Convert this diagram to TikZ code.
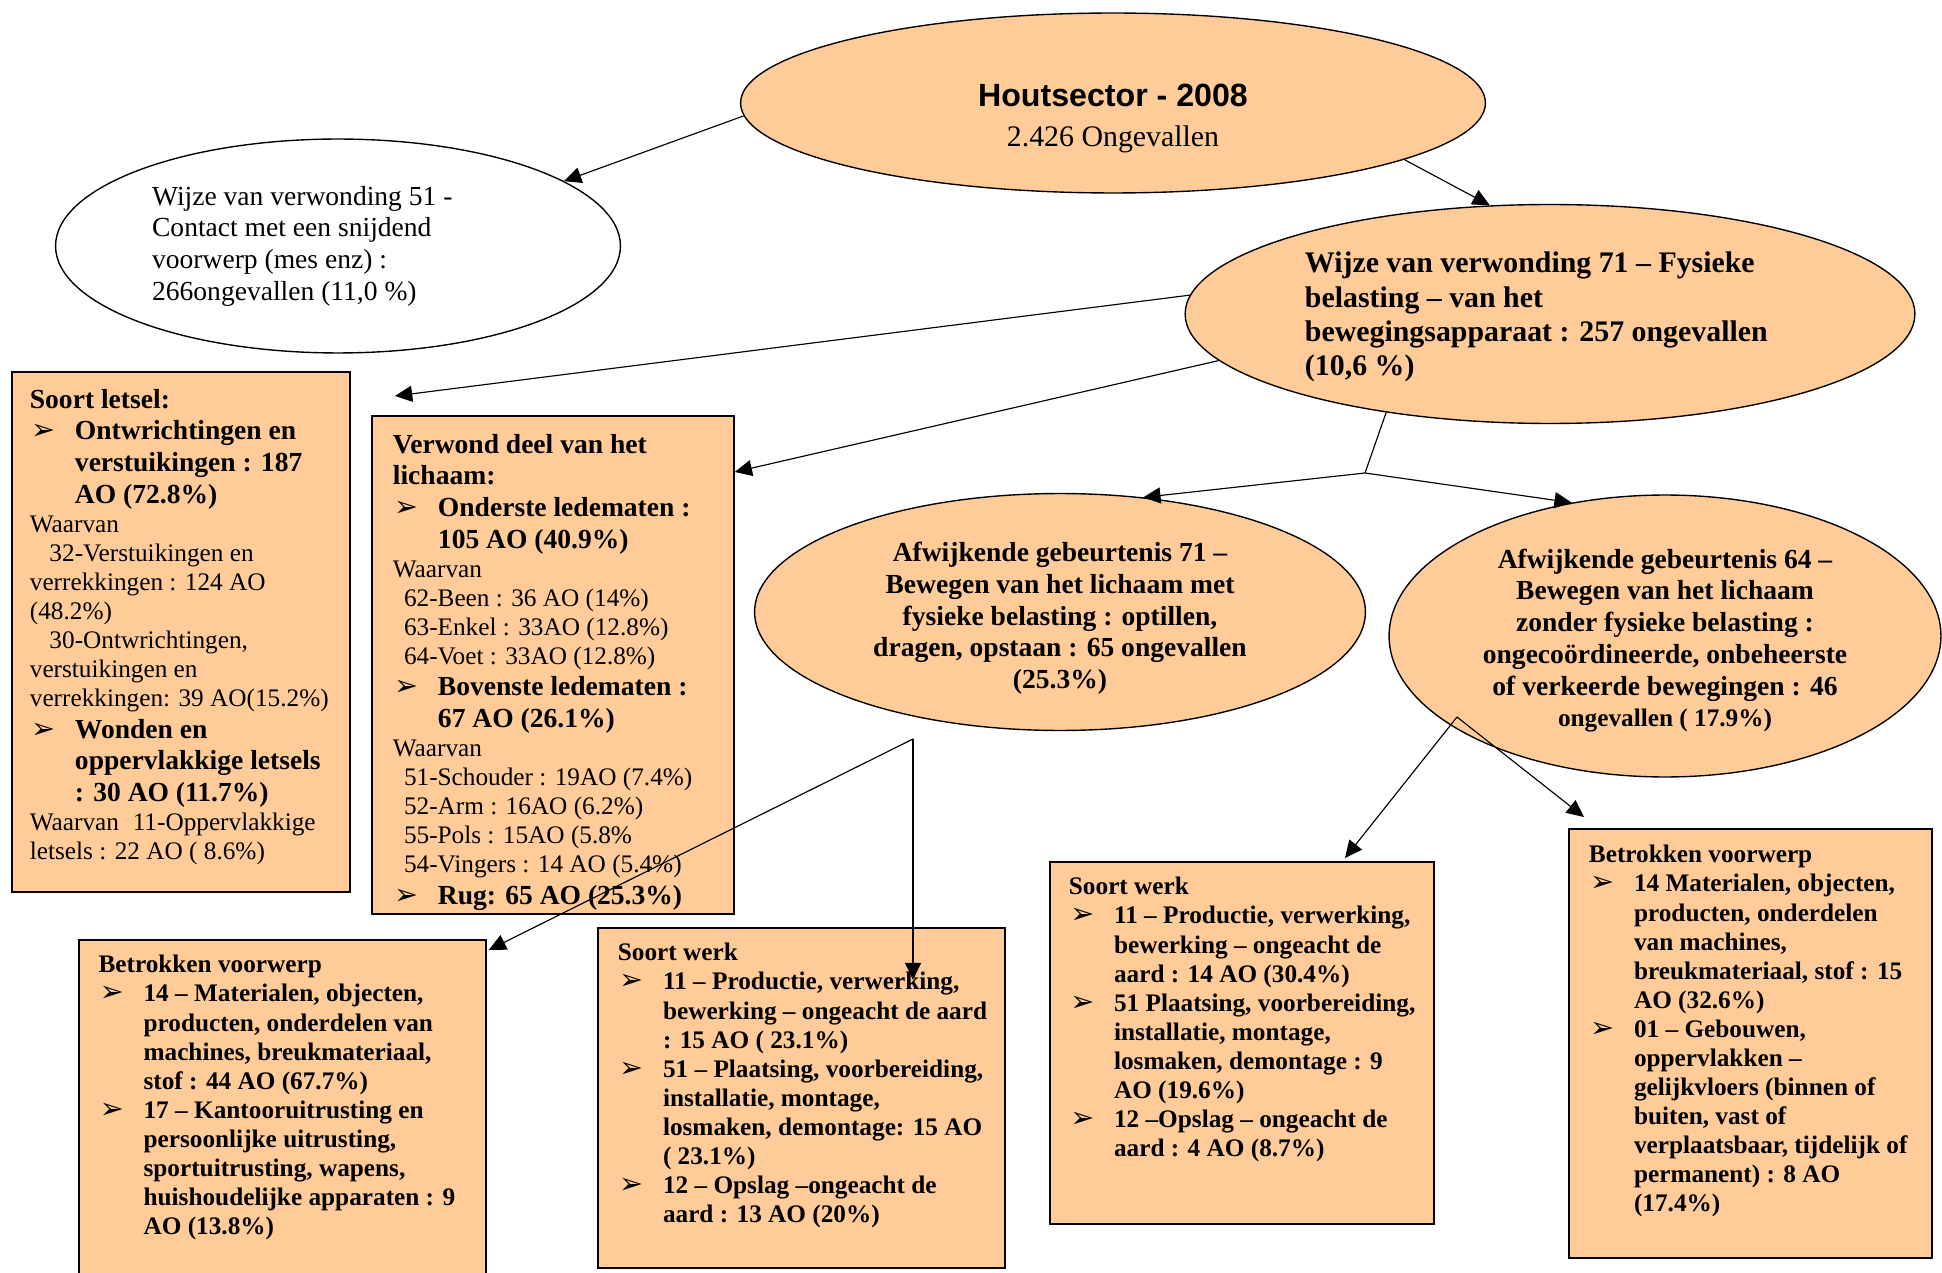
\documentclass[tikz,border=0pt]{standalone}
\usepackage{fontspec}
\setmainfont{Liberation Serif}
\setsansfont{Liberation Sans}
\newfontfamily\symb{DejaVu Sans}
\usetikzlibrary{shapes.geometric,arrows.meta,calc}

\definecolor{oranje}{HTML}{FFCC99}

\newcommand{\twaalf}{\fontsize{12}{13.8}\selectfont}
\newcommand{\twaalfb}{\fontsize{12}{13.8}\selectfont\bfseries}
\newcommand{\elf}{\fontsize{11}{12.65}\selectfont\mdseries}
\newcommand{\elfb}{\fontsize{11}{12.65}\selectfont\bfseries}
\newcommand{\pijl}{{\symb\fontsize{12.5}{10}\selectfont ➢}}
\newcommand{\punt}[1]{\par\hangindent=0.69cm\hangafter=1\noindent
  \makebox[0.69cm][l]{\hspace{0.02cm}\pijl}#1\par}
\newcommand{\vak}[3]{\parbox[c][#2][t]{#1}{\rightskip=0pt minus 3cm\relax #3}}

\tikzset{
  ovaal/.style={ellipse, draw, line width=0.6pt, fill=oranje, inner sep=0pt},
  kader/.style={draw, line width=0.8pt, fill=oranje, anchor=north west},
  lijn/.style={line width=0.5pt},
  verbinding/.style={line width=0.5pt, -{Triangle[length=7.5pt,width=7pt]}}
}

\begin{document}
\begin{tikzpicture}[x=0.0153cm, y=-0.0153cm]
\useasboundingbox (0,0) rectangle (1942,1273);

\node[ovaal, minimum width=11.4cm, minimum height=2.754cm] (top) at (1113,103) {};
\node[anchor=base, font=\sffamily\bfseries\fontsize{14}{17}\selectfont] (kop) at (1113,107) {Houtsector - 2008};
\node[anchor=base, font=\fontsize{13}{15}\selectfont] (totaal) at (1113,147) {2.426 Ongevallen};

\node[ovaal, fill=white, minimum width=8.645cm, minimum height=3.274cm] (snij) at (338,246)
  {\parbox{5.69cm}{\twaalf Wijze van verwonding 51 -\\Contact met een snijdend\\voorwerp (mes enz) :\\266ongevallen (11,0 \%)}};

\node[ovaal, minimum width=11.169cm, minimum height=3.351cm] (fysiek) at (1550,314)
  {\parbox{7.5cm}{\vspace*{0.1cm}\fontsize{13}{14.95}\selectfont\bfseries Wijze van verwonding 71 – Fysieke\\belasting – van het\\bewegingsapparaat : 257 ongevallen\\(10,6 \%)}};

\node[ovaal, minimum width=9.348cm, minimum height=3.626cm] (afw71) at (1060,612)
  {\parbox{6.12cm}{\vspace*{0.2cm}\centering\twaalfb Afwijkende gebeurtenis 71 –\\Bewegen van het lichaam met\\fysieke belasting : optillen,\\dragen, opstaan : 65 ongevallen\\(25.3\%)}};

\node[ovaal, minimum width=8.446cm, minimum height=4.315cm] (afw64) at (1665,636)
  {\parbox{5.81cm}{\vspace*{0.14cm}\centering\twaalfb Afwijkende gebeurtenis 64 –\\Bewegen van het lichaam\\zonder fysieke belasting :\\ongecoördineerde, onbeheerste\\of verkeerde bewegingen : 46\\{\elfb ongevallen ( 17.9\%)}}};

\node[kader, inner xsep=0.275cm, inner ysep=0.26cm] (letsel) at (11,371) {\vak{4.621cm}{7.436cm}{%
\twaalfb Soort letsel:\par
\punt{Ontwrichtingen en\\verstuikingen : 187\\AO (72.8\%)}
\elf Waarvan\par
\hspace*{0.3cm}32-Verstuikingen en\\verrekkingen : 124 AO\\(48.2\%)\par
\hspace*{0.3cm}30-Ontwrichtingen,\\verstuikingen en\\verrekkingen: 39 AO(15.2\%)\par
\twaalfb
\punt{Wonden en\\oppervlakkige letsels\\: 30 AO (11.7\%)}
\elf Waarvan\hspace{0.21cm}11-Oppervlakkige\\letsels : 22 AO ( 8.6\%)\par}};

\node[kader, inner xsep=0.321cm, inner ysep=0.275cm] (verwond) at (371,415) {\vak{4.897cm}{7.069cm}{%
\twaalfb Verwond deel van het\\lichaam:\par
\punt{Onderste ledematen :\\105 AO (40.9\%)}
\elf Waarvan\par
\hspace*{0.17cm}62-Been : 36 AO (14\%)\par
\hspace*{0.17cm}63-Enkel : 33AO (12.8\%)\par
\hspace*{0.17cm}64-Voet : 33AO (12.8\%)\par
\twaalfb
\punt{Bovenste ledematen :\\67 AO (26.1\%)}
\elf Waarvan\par
\hspace*{0.17cm}51-Schouder : 19AO (7.4\%)\par
\hspace*{0.17cm}52-Arm : 16AO (6.2\%)\par
\hspace*{0.17cm}55-Pols : 15AO (5.8\%\par
\hspace*{0.17cm}54-Vingers : 14 AO (5.4\%)\par
\twaalfb
\punt{Rug: 65 AO (25.3\%)}}};

\node[kader, inner xsep=0.3cm, inner ysep=0.237cm] (betrokken1) at (78,939) {\vak{5.627cm}{4.743cm}{%
\elfb Betrokken voorwerp\par
\punt{14 – Materialen, objecten,\\producten, onderdelen van\\machines, breukmateriaal,\\stof : 44 AO (67.7\%)}
\punt{17 – Kantooruitrusting en\\persoonlijke uitrusting,\\sportuitrusting, wapens,\\huishoudelijke apparaten : 9\\AO (13.8\%)}}};

\node[kader, inner xsep=0.306cm, inner ysep=0.237cm] (soortwerk1) at (597,927) {\vak{5.615cm}{4.728cm}{%
\elfb Soort werk\par
\punt{11 – Productie, verwerking,\\bewerking – ongeacht de aard\\: 15 AO ( 23.1\%)}
\punt{51 – Plaatsing, voorbereiding,\\installatie, montage,\\losmaken, demontage: 15 AO\\( 23.1\%)}
\punt{12 – Opslag –ongeacht de\\aard : 13 AO (20\%)}}};

\node[kader, inner xsep=0.291cm, inner ysep=0.237cm] (soortwerk2) at (1049,861) {\vak{5.293cm}{5.065cm}{%
\elfb Soort werk\par
\punt{11 – Productie, verwerking,\\bewerking – ongeacht de\\aard : 14 AO (30.4\%)}
\punt{51 Plaatsing, voorbereiding,\\installatie, montage,\\losmaken, demontage : 9\\AO (19.6\%)}
\punt{12 –Opslag – ongeacht de\\aard : 4 AO (8.7\%)}}};

\node[kader, inner xsep=0.306cm, inner ysep=0.252cm] (betrokken2) at (1568,828) {\vak{4.942cm}{6.06cm}{%
\elfb Betrokken voorwerp\par
\punt{14 Materialen, objecten,\\producten, onderdelen\\van machines,\\breukmateriaal, stof : 15\\AO (32.6\%)}
\punt{01 – Gebouwen,\\oppervlakken –\\gelijkvloers (binnen of\\buiten, vast of\\verplaatsbaar, tijdelijk of\\permanent) : 8 AO\\(17.4\%)}}};

\coordinate (letselpijl) at (395,396);
\coordinate (tak) at (1365,473);
\coordinate (tak71) at (913,739);
\coordinate (tak64) at (1457,717);

\draw[verbinding] (top.182) -- (snij.16);
\draw[verbinding] (top.349) -- (fysiek.119);
\draw[verbinding] (fysiek.177) -- (letselpijl);
\draw[verbinding] (fysiek.188) -- ($(verwond.north east)+(0,57)$);
\draw[lijn] (fysiek.211) -- (tak);
\draw[verbinding] (tak) -- (afw71.54);
\draw[verbinding] (tak) -- (afw64.125);
\draw[verbinding] (tak71) -- ($(betrokken1.north east)+(2,11)$);
\draw[verbinding] (tak71) -- ($(soortwerk1.north west)+(316,53)$);
\draw[verbinding] (tak64) -- ($(soortwerk2.north west)+(296,-3)$);
\draw[verbinding] (tak64) -- ($(betrokken2.north west)+(16,-11)$);
\end{tikzpicture}
\end{document}
